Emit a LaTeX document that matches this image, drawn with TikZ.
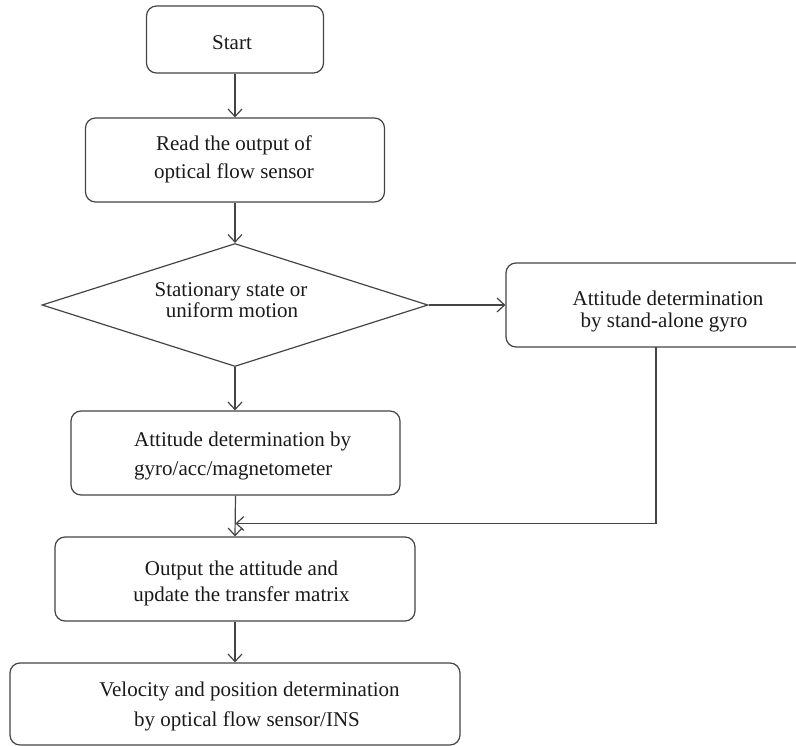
\documentclass[tikz,border=0pt]{standalone}
\usepackage{fontspec}
\setmainfont{Liberation Serif}
\usetikzlibrary{arrows.meta,shapes.geometric}
\definecolor{linecol}{HTML}{444444}
\definecolor{textcol}{HTML}{1A1A1A}
\begin{document}
\begin{tikzpicture}[x=1pt,y=-1pt,
  line/.style={draw=linecol, line width=1.2pt},
  box/.style={line, rounded corners=10pt, inner sep=0pt, minimum height=84pt},
  arr/.style={line, -{Straight Barb[length=7.5pt,width=14pt]}},
  txt/.style={text=textcol, inner sep=0pt, anchor=base, font=\fontsize{21}{25}\selectfont}
]
\useasboundingbox (0,0) rectangle (796,746);
\clip (0,0) rectangle (796,746);

% boxes
\node[box, minimum width=177pt, minimum height=67pt] (start) at (235,39.5) {};
\node[box, minimum width=299pt] (read) at (235,160) {};
\node[line, shape=diamond, inner sep=0pt, minimum width=386pt, minimum height=123pt] (dec) at (235,305) {};
\node[box, minimum width=320pt] (stand) at (666,305) {};
\node[box, minimum width=329pt] (gyro) at (235.5,453) {};
\node[box, minimum width=360pt] (out) at (235,579) {};
\node[box, minimum width=450pt, minimum height=82pt] (vel) at (235,704) {};

% texts
\node[txt] (tstart) at (232,50) {Start};
\node[txt] (tread1) at (234,150.5) {Read the output of};
\node[txt] (tread2) at (234,179) {optical flow sensor};
\node[txt] (tdec1) at (231,296.5) {Stationary state or};
\node[txt] (tdec2) at (232,317.5) {uniform motion};
\node[txt] (tstand1) at (668,306) {Attitude determination};
\node[txt] (tstand2) at (664,327) {by stand-alone gyro};
\node[txt, anchor=base west] (tgyro1) at (134,446.5) {Attitude determination by};
\node[txt, anchor=base west] (tgyro2) at (134,475) {gyro/acc/magnetometer};
\node[txt] (tout1) at (241.5,575) {Output the attitude and};
\node[txt] (tout2) at (241.5,601.5) {update the transfer matrix};
\node[txt] (tvel1) at (249.5,696.5) {Velocity and position determination};
\node[txt] (tvel2) at (247,726.5) {by optical flow sensor/INS};

% connectors
\coordinate (j) at (235.5,523.5);
\coordinate (sdown) at (656,347);
\draw[arr] (start.south) -- (read.north);
\draw[arr] (read.south) -- (dec.north);
\draw[arr] (dec.east) -- (stand.west);
\draw[arr] (dec.south) -- (dec.south |- gyro.north);
\draw[arr] (gyro.south) -- (out.north);
\draw[arr] (sdown) |- (j);
\draw[arr] (out.south) -- (vel.north);
\end{tikzpicture}
\end{document}
